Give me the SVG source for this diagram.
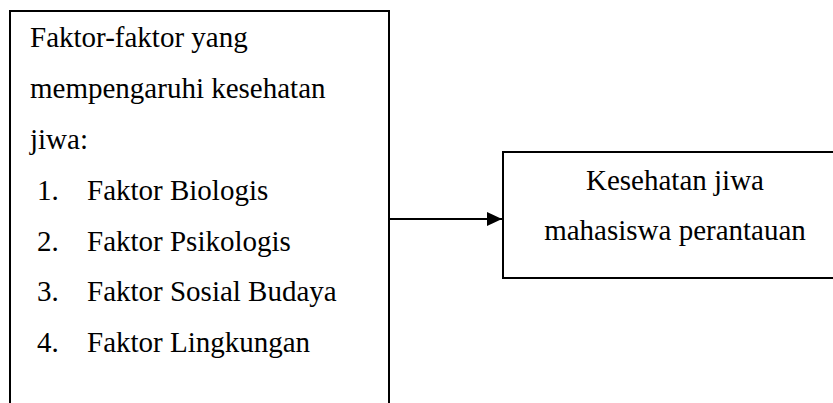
<svg xmlns="http://www.w3.org/2000/svg" width="833" height="403" viewBox="0 0 833 403">
<style>
.box{fill:#fff;stroke:#000;stroke-width:2}
.t{font-family:"Liberation Serif","Times New Roman",serif;font-size:29px;fill:#000}
.c{text-anchor:middle}
.conn{stroke:#000;stroke-width:2;fill:none}
</style>
<defs>
<marker id="arr" markerWidth="8" markerHeight="8" refX="7.5" refY="3.5" orient="auto" markerUnits="strokeWidth">
<path d="M0,0 L7.5,3.5 L0,7 Z" fill="#000"/>
</marker>
</defs>
<rect width="833" height="403" fill="#fff"/>
<g id="factors">
<path class="box" d="M10,410 L10,11 L389,11 L389,410"/>
<text class="t" x="30" y="47">Faktor-faktor yang</text>
<text class="t" x="30" y="98">mempengaruhi kesehatan</text>
<text class="t" x="30" y="149">jiwa:</text>
<text class="t" x="37" y="200">1.</text><text class="t" x="87" y="200">Faktor Biologis</text>
<text class="t" x="37" y="251">2.</text><text class="t" x="87" y="251">Faktor Psikologis</text>
<text class="t" x="37" y="301">3.</text><text class="t" x="87" y="301">Faktor Sosial Budaya</text>
<text class="t" x="37" y="352">4.</text><text class="t" x="87" y="352">Faktor Lingkungan</text>
</g>
<g id="outcome">
<path class="box" d="M840,152 L503,152 L503,278 L840,278"/>
<text class="t c" x="675" y="190">Kesehatan jiwa</text>
<text class="t c" x="675" y="240">mahasiswa perantauan</text>
</g>
<g id="connectors">
<line class="conn" x1="389" y1="219" x2="502" y2="219" marker-end="url(#arr)"/>
</g>
</svg>
